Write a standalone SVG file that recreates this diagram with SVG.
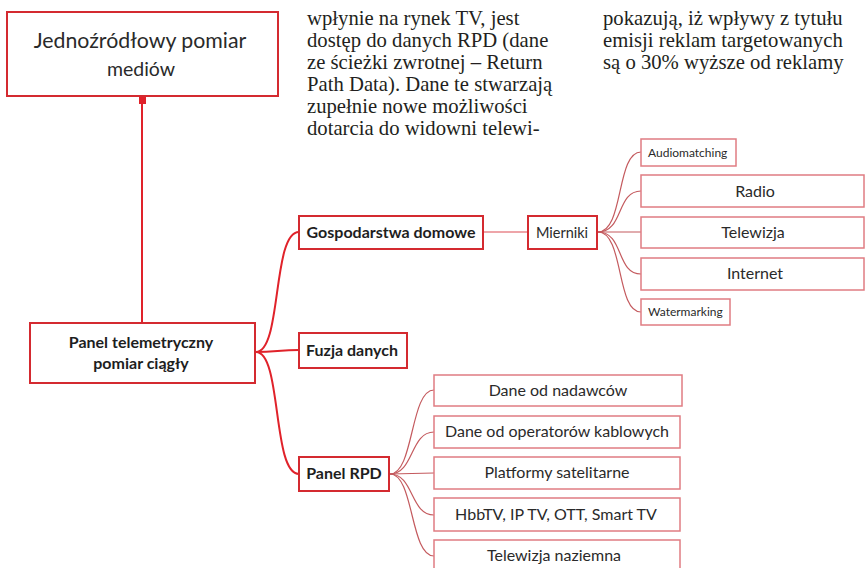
<svg xmlns="http://www.w3.org/2000/svg" width="865" height="568" viewBox="0 0 865 568">
<style>
.bg{fill:#ffffff}
.main{fill:#ffffff;stroke:#d42a30;stroke-width:2}
.sub{fill:#ffffff;stroke:#e07c82;stroke-width:1.5}
.t{font-family:Lato,"Noto Sans","DejaVu Sans",sans-serif;fill:#2a2a2a;text-anchor:middle}
.b{font-weight:bold;fill:#1e1e1e}
.serif{font-family:"Liberation Serif","DejaVu Serif",serif;fill:#231f20;font-size:20.7px}
.c1{fill:none;stroke:#e0222a;stroke-width:2}
.c2{fill:none;stroke:#e8878c;stroke-width:1.5}
.c3{fill:none;stroke:#c45a5e;stroke-width:1.2}
</style>
<rect class="bg" x="0" y="0" width="865" height="568"/>
<g id="body-text">
<text class="serif" x="307" y="25">wpłynie na rynek TV, jest</text>
<text class="serif" x="307" y="47">dostęp do danych RPD (dane</text>
<text class="serif" x="307" y="69">ze ścieżki zwrotnej – Return</text>
<text class="serif" x="307" y="91">Path Data). Dane te stwarzają</text>
<text class="serif" x="307" y="113">zupełnie nowe możliwości</text>
<text class="serif" x="307" y="135">dotarcia do widowni telewi-</text>
<text class="serif" x="603" y="25">pokazują, iż wpływy z tytułu</text>
<text class="serif" x="603" y="47">emisji reklam targetowanych</text>
<text class="serif" x="603" y="69">są o 30% wyższe od reklamy</text>
</g>
<g id="connectors">
<line class="c1" x1="142" y1="96" x2="142" y2="323"/>
<rect x="139" y="96" width="7" height="8" fill="#e0222a"/>
<path class="c1" d="M256,352 C282,352 272,232 299,232"/>
<path class="c1" d="M256,352 C275,352 280,350 299,350"/>
<path class="c1" d="M256,352 C282,352 272,474 299,474"/>
<path class="c2" d="M483,232 L528,232"/>
<path class="c3" d="M598,232 C624,232 616,152 641,152"/>
<path class="c3" d="M598,232 C624,232 616,191 641,191"/>
<path class="c3" d="M598,232 L641,232"/>
<path class="c3" d="M598,232 C624,232 616,274 641,274"/>
<path class="c3" d="M598,232 C624,232 616,312 641,312"/>
<path class="c3" d="M390,474 C414,474 410,390 434,390"/>
<path class="c3" d="M390,474 C414,474 410,432 434,432"/>
<path class="c3" d="M390,474 L434,473"/>
<path class="c3" d="M390,474 C414,474 410,515 434,515"/>
<path class="c3" d="M390,474 C414,474 410,556 434,556"/>
</g>
<g id="n-jednozrodlowy">
<rect class="main" x="7" y="12" width="271" height="84"/>
<text class="t" x="140" y="48" font-size="21.3">Jednoźródłowy pomiar</text>
<text class="t" x="141" y="76" font-size="19.5">mediów</text>
</g>
<g id="n-panel-telemetryczny">
<rect class="main" x="30" y="323" width="225" height="60"/>
<text class="t b" x="141" y="348" font-size="16">Panel telemetryczny</text>
<text class="t b" x="141" y="369" font-size="16">pomiar ciągły</text>
</g>
<g id="n-gospodarstwa">
<rect class="main" x="299" y="216" width="184" height="33"/>
<text class="t b" x="391" y="238" font-size="16">Gospodarstwa domowe</text>
</g>
<g id="n-mierniki">
<rect class="main" x="528" y="216" width="69" height="33"/>
<text class="t" x="562" y="238" font-size="14.5">Mierniki</text>
</g>
<g id="n-fuzja">
<rect class="main" x="299" y="333" width="108" height="35"/>
<text class="t b" x="352" y="356" font-size="16">Fuzja danych</text>
</g>
<g id="n-panel-rpd">
<rect class="main" x="299" y="457" width="90" height="34"/>
<text class="t b" x="344" y="479" font-size="16">Panel RPD</text>
</g>
<g id="n-audiomatching">
<rect class="sub" x="641" y="139" width="95" height="27"/>
<text class="t" x="648" y="157" font-size="12" style="text-anchor:start">Audiomatching</text>
</g>
<g id="n-radio">
<rect class="sub" x="641" y="175" width="223" height="32"/>
<text class="t" x="755" y="197" font-size="16">Radio</text>
</g>
<g id="n-telewizja">
<rect class="sub" x="641" y="217" width="223" height="31"/>
<text class="t" x="753" y="238" font-size="16">Telewizja</text>
</g>
<g id="n-internet">
<rect class="sub" x="641" y="258" width="223" height="32"/>
<text class="t" x="755" y="279" font-size="16">Internet</text>
</g>
<g id="n-watermarking">
<rect class="sub" x="641" y="299" width="89" height="26"/>
<text class="t" x="648" y="316" font-size="12" style="text-anchor:start">Watermarking</text>
</g>
<g id="n-nadawcow">
<rect class="sub" x="434" y="375" width="248" height="31"/>
<text class="t" x="558" y="396" font-size="16">Dane od nadawców</text>
</g>
<g id="n-operatorow">
<rect class="sub" x="434" y="416" width="246" height="32"/>
<text class="t" x="557" y="437" font-size="16">Dane od operatorów kablowych</text>
</g>
<g id="n-platformy">
<rect class="sub" x="434" y="457" width="246" height="32"/>
<text class="t" x="557" y="478" font-size="16">Platformy satelitarne</text>
</g>
<g id="n-hbbtv">
<rect class="sub" x="434" y="498" width="246" height="33"/>
<text class="t" x="556" y="520" font-size="16">HbbTV, IP TV, OTT, Smart TV</text>
</g>
<g id="n-naziemna">
<rect class="sub" x="434" y="540" width="246" height="34"/>
<text class="t" x="554" y="561" font-size="16">Telewizja naziemna</text>
</g>
</svg>
